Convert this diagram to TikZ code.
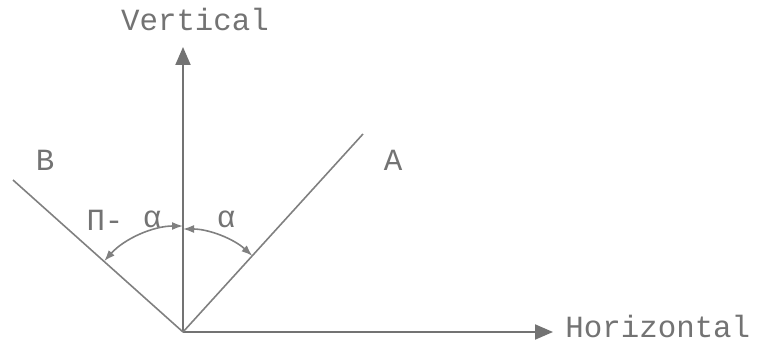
\documentclass[tikz,border=0pt]{standalone}
\usepackage{fontspec}
\setmainfont{Liberation Mono}
\usepackage{tikz}
\usetikzlibrary{positioning, arrows.meta}

\begin{document}
\begin{tikzpicture}[
    x=0.5pt, y=0.5pt,
    axis/.style={draw=black!55, line width=1pt, -{Triangle[length=9pt, width=7.5pt]}},
    ray/.style={draw=black!50, line width=0.8pt},
    angarr/.style={draw=black!50, line width=0.8pt, {Latex[length=5.5pt, width=4pt]}-{Latex[length=5.5pt, width=4pt]}},
    lbl/.style={text=black!55, font=\fontsize{15.4}{18}\selectfont, inner sep=0pt}
]
    \useasboundingbox (0,0) rectangle (770,354);

    \coordinate (O) at (183,22);
    \coordinate (vtip) at (183,307);
    \coordinate (htip) at (553,22);
    \coordinate (aend) at (363,220);
    \coordinate (bend) at (13,174);

    % axes
    \draw[axis] (O) -- (vtip);
    \draw[axis] (O) -- (htip);
    \node[lbl, anchor=base] (vert) at (195,323) {Vertical};
    \node[lbl, anchor=base west] (horiz) at (565,17) {Horizontal};

    % the two rays
    \draw[ray] (O) -- (aend);
    \draw[ray] (O) -- (bend);
    \node[lbl] (labA) at (393,194) {A};
    \node[lbl] (labB) at (45,194) {B};

    % angles
    \path (O) ++(138:106) coordinate (bmark);
    \path (O) ++(90:103) coordinate (vmark);
    \draw[angarr] (bmark) arc[start angle=138, end angle=90, radius=106];
    \draw[angarr] (vmark) arc[start angle=90, end angle=47.7, radius=103];
    \node[lbl] (piminus) at (105,134) {Π-};
    \node[lbl] (alphaL) at (152,135) {α};
    \node[lbl] (alphaR) at (226,135) {α};
\end{tikzpicture}
\end{document}
